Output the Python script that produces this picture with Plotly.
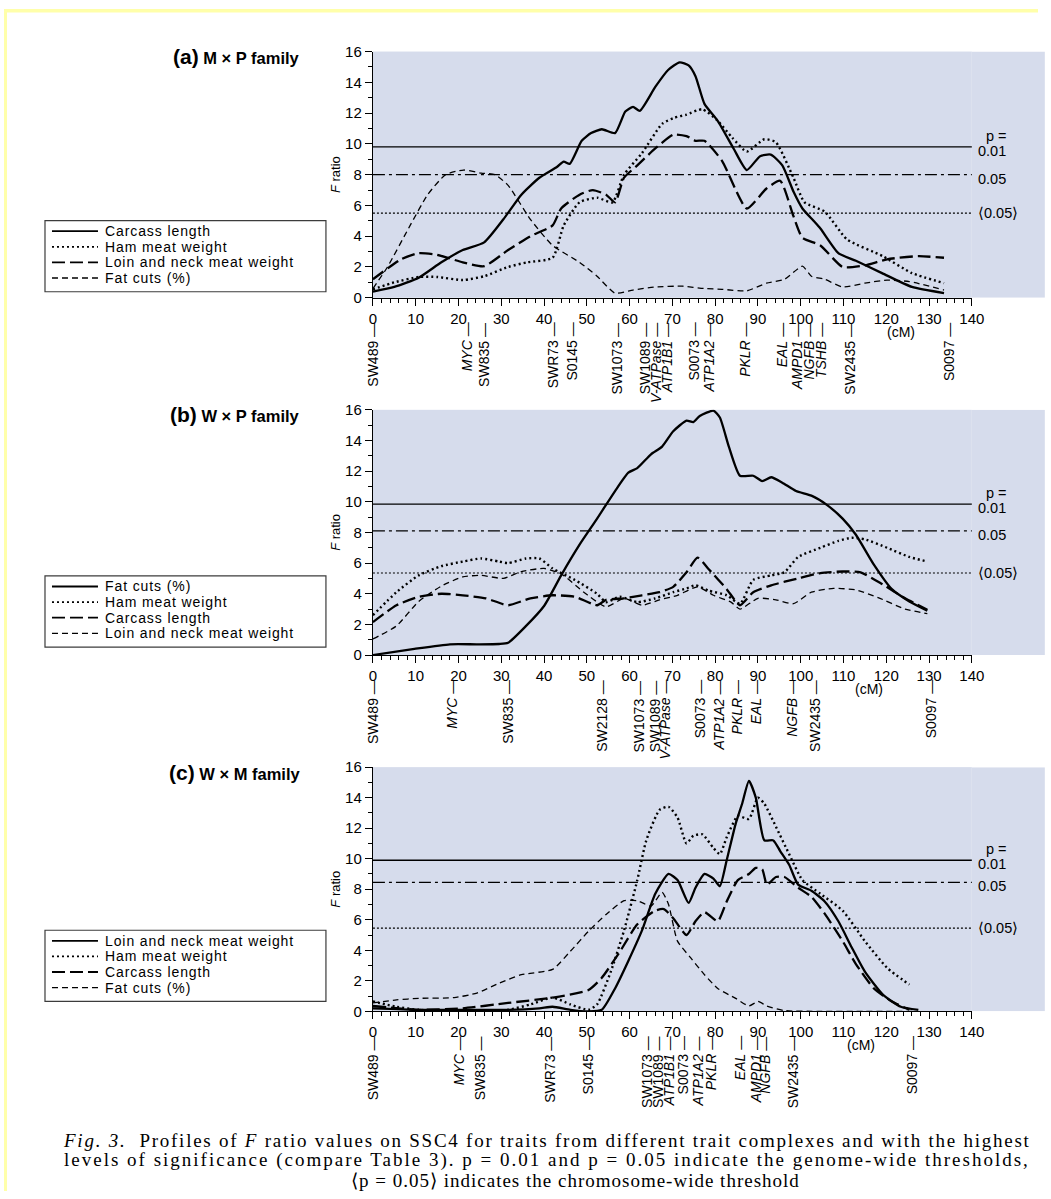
import plotly.graph_objects as go

# The photographed page shows the figure slightly scaled/offset; map reference pixels to figure pixels.
W, H = 1051, 1199
AX, SX = 4.0, 0.984
AY, SY = 9.5, 0.985


def px(sx):
    return ((sx - AX) / SX) / W


def py(sy):
    return 1 - ((sy - AY) / SY) / H


# ---------------- data (cM positions and F ratios) ----------------
# Panel (a) M x P family
carcass_a_cM = [0, 5, 10.7, 16, 21, 26, 30.5, 34.7, 38.9, 43, 44.6, 46, 48.8, 51, 53.5, 56.6, 59, 60.8, 62.4, 66, 69,
                71.7, 73.8, 75.4, 77.5, 80.6, 84.3, 87.4, 90.5, 93, 95.7, 98.3, 100.4, 103, 104.6, 108.8, 112.9, 119,
                126, 133.5]
carcass_a_F = [0.4, 0.7, 1.3, 2.3, 3.1, 3.6, 5.1, 6.7, 7.8, 8.5, 8.85, 8.7, 10.2, 10.7, 10.95, 10.7, 12.1, 12.4, 12.15,
               13.7, 14.8, 15.3, 15.1, 14.4, 12.6, 11.5, 9.7, 8.3, 9.2, 9.3, 8.6, 6.9, 5.8, 5.0, 4.5, 2.9, 2.4, 1.6,
               0.7, 0.3]
ham_a_cM = [0, 5, 10.7, 15, 21, 26, 31.6, 36, 42, 44.6, 48.3, 52.4, 56, 58.7, 62.9, 67.6, 70.5, 73.3, 77, 80.6, 84,
            87.4, 91.5, 94.2, 98.3, 100.9, 105.6, 110.8, 119.2, 126, 133.5]
ham_a_F = [0.55, 1.0, 1.35, 1.35, 1.15, 1.4, 2.0, 2.3, 2.6, 4.7, 6.2, 6.5, 6.2, 8.0, 9.4, 11.3, 11.7, 11.9, 12.25, 11.5,
           10.4, 9.5, 10.3, 10.1, 7.8, 6.2, 5.6, 3.8, 2.7, 1.6, 0.95]
loin_a_cM = [0, 6.6, 10.7, 14.9, 21, 26, 31.6, 36.8, 42, 44, 48.3, 51.4, 54.5, 56.6, 58.7, 61.8, 66, 70.2, 73.3, 75.4,
             77.5, 81.6, 87.4, 92, 95.2, 98.3, 100.4, 104.6, 109.8, 115, 120.2, 127.5, 133.5]
loin_a_F = [1.2, 2.5, 2.9, 2.8, 2.3, 2.05, 3.1, 4.0, 4.7, 5.8, 6.7, 7.0, 6.7, 6.2, 7.8, 8.6, 9.7, 10.6, 10.5, 10.2,
            10.2, 8.9, 5.8, 7.1, 7.6, 5.3, 3.9, 3.4, 2.0, 2.1, 2.5, 2.7, 2.6]
fat_a_cM = [0, 3.4, 8.7, 12.8, 17, 21.2, 25.3, 28.5, 31.6, 36.8, 42, 48.3, 52.4, 56.6, 60.8, 66, 72.3, 77.5, 81.6,
            87.4, 92, 96.2, 100.4, 102.5, 105.6, 109.8, 115, 120.2, 125.4, 133.5]
fat_a_F = [0.6, 2.0, 4.7, 6.7, 8.0, 8.3, 8.1, 8.0, 7.3, 5.1, 3.4, 2.3, 1.4, 0.3, 0.5, 0.7, 0.75, 0.6, 0.55, 0.45,
           0.95, 1.2, 2.05, 1.4, 1.2, 0.7, 0.95, 1.15, 1.05, 0.5]

# Panel (b) W x P family
fat_b_cM = [0, 9.7, 18, 24.3, 29.5, 31.6, 35.8, 40, 44, 48.3, 52.4, 56.6, 59.7, 61.8, 65, 67.6, 70.2, 73.3, 74.9,
            76.4, 79.6, 81.1, 83.2, 85.8, 88.9, 91, 93.1, 95.7, 98.9, 102.5, 106.1, 109.8, 112.9, 117.1, 121.3,
            125.4, 129.6]
fat_b_F = [0, 0.4, 0.7, 0.7, 0.72, 0.8, 1.9, 3.2, 5.2, 7.2, 8.9, 10.7, 11.9, 12.2, 13.1, 13.6, 14.6, 15.3, 15.2,
           15.6, 15.95, 15.5, 13.6, 11.7, 11.7, 11.35, 11.6, 11.25, 10.7, 10.4, 9.8, 8.9, 7.85, 5.9, 4.3, 3.5, 2.9]
ham_b_cM = [0, 5.5, 10.7, 16, 21, 25.3, 29.5, 31.6, 35.8, 38.9, 42, 47.2, 52.4, 54.5, 57.7, 61.8, 66, 70.2, 73.3,
            75.4, 78.5, 82.7, 85.8, 88.9, 93.1, 96.2, 99.4, 104.6, 108.8, 111.9, 115, 120.2, 125.4, 129.6]
ham_b_F = [2.6, 4.1, 5.2, 5.8, 6.1, 6.3, 6.1, 6.0, 6.3, 6.3, 5.65, 4.9, 4.0, 3.45, 3.8, 3.45, 3.7, 4.1, 4.35, 4.55,
           4.2, 3.9, 3.35, 4.9, 5.2, 5.4, 6.4, 7.0, 7.45, 7.65, 7.55, 7.0, 6.4, 6.1]
carcass_b_cM = [0, 5.5, 10.7, 16, 21, 26.4, 31.6, 36.8, 42, 47.2, 52.4, 54.5, 58.7, 62.9, 67, 70.2, 73.3, 75.9, 78.5,
                82.7, 85.8, 88.9, 93.1, 99.4, 104.6, 109.8, 114, 119.2, 124.4, 129.6]
carcass_b_F = [2.15, 3.25, 3.8, 4.0, 3.9, 3.7, 3.25, 3.7, 3.9, 3.8, 3.25, 3.6, 3.7, 3.9, 4.1, 4.45, 5.4, 6.35, 5.6,
               4.3, 3.25, 4.1, 4.55, 5.0, 5.35, 5.45, 5.4, 4.6, 3.7, 2.95]
loin_b_cM = [0, 5.5, 10.7, 16, 21, 25.3, 30.5, 34.7, 40, 44, 49.3, 54.5, 58.7, 62.9, 67, 71.2, 75.9, 79.6, 83.7, 85.8,
             90, 94.2, 98.3, 102.5, 107.7, 112.9, 118.1, 124.4, 129.6]
loin_b_F = [1.05, 1.9, 3.5, 4.5, 5.1, 5.2, 5.0, 5.45, 5.65, 5.3, 4.1, 3.15, 3.7, 3.25, 3.6, 3.9, 4.45, 3.9, 3.45, 3.0,
            3.7, 3.6, 3.35, 4.1, 4.35, 4.25, 3.75, 3.0, 2.7]

# Panel (c) W x M family
loin_c_cM = [0, 10.7, 21, 31.6, 38.9, 42, 46.2, 50.4, 53.5, 56.6, 59.7, 62.9, 66, 69.1, 71.2, 73.8, 75.4, 77.5, 79.6,
             81.1, 82.7, 84.8, 86.3, 87.9, 89.5, 91.5, 93.6, 95.2, 97.3, 99.4, 102.5, 105.6, 108.8, 111.9, 115, 119.2,
             123.4, 127.5]
loin_c_F = [0.2, 0.1, 0.1, 0.1, 0.2, 0.3, 0.1, 0, 0.1, 1.5, 3.3, 5.3, 7.7, 9.0, 8.6, 7.1, 8.1, 9.0, 8.7, 8.2, 9.9,
            12.3, 13.6, 15.1, 14.0, 11.2, 11.2, 10.5, 9.6, 8.3, 7.9, 7.2, 5.9, 4.2, 2.6, 1.1, 0.3, 0.1]
ham_c_cM = [0, 5.5, 10.7, 21, 31.6, 36.8, 42, 46.2, 50.4, 52.4, 55.6, 58.7, 61.8, 63.9, 67, 69.1, 71.2, 73.3, 74.9,
            77, 79.6, 81.1, 82.7, 85.3, 87.9, 90, 91.5, 94.2, 97.3, 100.4, 104.6, 109.8, 115, 120.2, 125.4]
ham_c_F = [0.65, 0.3, 0.1, 0, 0.1, 0.45, 0.9, 0.45, 0.1, 0.45, 2.6, 5.3, 8.6, 11.2, 13.2, 13.4, 12.7, 11.0, 11.5,
           11.6, 10.7, 10.3, 11.4, 12.8, 12.6, 14.0, 13.6, 12.1, 10.3, 8.6, 7.7, 6.6, 4.6, 2.85, 1.75]
carcass_c_cM = [0, 10.7, 21, 31.6, 42, 50.4, 53.5, 57.7, 61.8, 66, 68, 70.2, 73.3, 75.4, 77.5, 80.6, 82.7, 85.3, 87.9,
                89.5, 91, 92.1, 94.2, 96.2, 99.4, 102.5, 105.6, 109.8, 112.9, 117.1, 121.3, 125.4]
carcass_c_F = [0.35, 0.1, 0.2, 0.55, 0.9, 1.4, 2.2, 3.9, 5.7, 6.6, 6.7, 6.1, 5.0, 5.9, 6.5, 5.9, 7.2, 8.6, 9.0, 9.4,
               9.3, 8.3, 8.8, 8.8, 8.1, 7.5, 6.4, 4.6, 3.1, 1.5, 0.65, 0.1]
fat_c_cM = [0, 5.5, 10.7, 19, 24.3, 29.5, 34.7, 42, 46.2, 50.4, 54.5, 58.7, 61.8, 65, 67.6, 69.1, 71.2, 74.3, 77.5,
            80.6, 84.8, 87.9, 90, 92.1, 96.2, 104.6, 115, 127]
fat_c_F = [0.55, 0.75, 0.85, 0.9, 1.2, 1.85, 2.4, 2.75, 3.95, 5.25, 6.35, 7.25, 7.25, 6.9, 7.8, 7.0, 4.6, 3.5, 2.4,
           1.5, 0.85, 0.35, 0.65, 0.35, 0.05, 0, 0, 0]

# significance thresholds [p=0.01, p=0.05, <p=0.05>]
thr_a = [9.8, 8.0, 5.5]
thr_b = [9.85, 8.1, 5.35]
thr_c = [9.9, 8.45, 5.45]
thr_labels = ["0.01", "0.05", "⟨0.05⟩"]

# marker maps
markers_a_names = ["SW489", "MYC", "SW835", "SWR73", "S0145", "SW1073", "SW1089", "V-ATPase", "ATP1B1", "S0073",
                   "ATP1A2", "PKLR", "EAL", "AMPD1", "NGFB", "TSHB", "SW2435", "S0097"]
markers_a_cM = [0, 22, 26, 42, 46.5, 57, 63.5, 66.2, 68.8, 75, 78.5, 87, 95.5, 99.3, 102, 104.7, 111.5, 134.5]
markers_b_names = ["SW489", "MYC", "SW835", "SW2128", "SW1073", "SW1089", "V-ATPase", "S0073", "ATP1A2", "PKLR",
                   "EAL", "NGFB", "SW2435", "S0097"]
markers_b_cM = [0, 18.3, 31.5, 53.5, 62.3, 66, 68.4, 76.5, 81, 85.2, 89.6, 97.8, 103.3, 130.5]
markers_c_names = ["SW489", "MYC", "SW835", "SWR73", "S0145", "SW1073", "SW1089", "ATP1B1", "S0073", "ATP1A2",
                   "PKLR", "EAL", "AMPD1", "NGFB", "SW2435", "S0097"]
markers_c_cM = [0, 20, 25, 41.5, 50.3, 64.2, 66.8, 69.4, 72.5, 76, 79, 86, 89.4, 91.6, 98.2, 126]
gene_names = {"MYC", "V-ATPase", "ATP1B1", "ATP1A2", "PKLR", "EAL", "AMPD1", "NGFB", "TSHB"}

x_ticks = list(range(0, 141, 10))
y_ticks = list(range(0, 17, 2))

# ---------------- styles ----------------
BLUE = "rgb(214,220,236)"
FONT = "Liberation Sans"
SOLID = dict(color="black", width=2.3, dash="solid")
DOT = dict(color="black", width=2.4, dash="2px,3px")
LDASH = dict(color="black", width=2.3, dash="13px,5px")
SDASH = dict(color="black", width=1.3, dash="6px,4px")
THR_STYLES = [dict(color="black", width=1.3, dash="solid"),
              dict(color="black", width=1.3, dash="12px,4px,3px,4px"),
              dict(color="black", width=1.1, dash="2px,2px")]

panels = [
    dict(tag="a", fam="M × P family", top=52, bot=298, thr=thr_a, legtop=221, cm=123.5,
         markers=(markers_a_names, markers_a_cM),
         series=[("Carcass length", carcass_a_cM, carcass_a_F, SOLID),
                 ("Ham meat weight", ham_a_cM, ham_a_F, DOT),
                 ("Loin and neck meat weight", loin_a_cM, loin_a_F, LDASH),
                 ("Fat cuts (%)", fat_a_cM, fat_a_F, SDASH)]),
    dict(tag="b", fam="W × P family", top=410, bot=655, thr=thr_b, legtop=576, cm=116,
         markers=(markers_b_names, markers_b_cM),
         series=[("Fat cuts (%)", fat_b_cM, fat_b_F, SOLID),
                 ("Ham meat weight", ham_b_cM, ham_b_F, DOT),
                 ("Carcass length", carcass_b_cM, carcass_b_F, LDASH),
                 ("Loin and neck meat weight", loin_b_cM, loin_b_F, SDASH)]),
    dict(tag="c", fam="W × M family", top=767, bot=1011, thr=thr_c, legtop=930, cm=114,
         markers=(markers_c_names, markers_c_cM),
         series=[("Loin and neck meat weight", loin_c_cM, loin_c_F, SOLID),
                 ("Ham meat weight", ham_c_cM, ham_c_F, DOT),
                 ("Carcass length", carcass_c_cM, carcass_c_F, LDASH),
                 ("Fat cuts (%)", fat_c_cM, fat_c_F, SDASH)]),
]

X0, X1 = 373, 972  # reference pixel positions of 0 and 140 cM

fig = go.Figure()
shapes = []
annotations = []

# yellow page frame (left and top strips)
shapes.append(dict(type="rect", xref="paper", yref="paper", x0=0, x1=px(7), y0=0, y1=1,
                   fillcolor="rgb(255,255,170)", line=dict(width=0), layer="below"))
shapes.append(dict(type="rect", xref="paper", yref="paper", x0=0, x1=1, y0=py(13), y1=1,
                   fillcolor="rgb(255,255,170)", line=dict(width=0), layer="below"))

for i, p in enumerate(panels):
    n = "" if i == 0 else str(i + 1)
    xa, ya = "x" + n, "y" + n
    for name, xs, ys, st in p["series"]:
        fig.add_trace(go.Scatter(x=xs, y=ys, name=name, mode="lines", xaxis=xa, yaxis=ya,
                                 line=dict(color=st["color"], width=st["width"], dash=st["dash"],
                                           shape="spline", smoothing=0.55),
                                 showlegend=False, hoverinfo="x+y+name"))
    axis_common = dict(showgrid=False, zeroline=False, showline=True, linecolor="black", linewidth=1.3,
                       ticks="outside", ticklen=7, tickwidth=1.3, tickcolor="black",
                       tickfont=dict(family=FONT, size=15, color="black"))
    fig.layout["xaxis" + n] = dict(domain=[px(X0), px(X1)], range=[0, 140], anchor=ya,
                                   tickvals=x_ticks, fixedrange=True,
                                   minor=dict(dtick=2, ticklen=4, tickwidth=1, tickcolor="black", ticks="outside"),
                                   **axis_common)
    fig.layout["yaxis" + n] = dict(domain=[py(p["bot"]), py(p["top"])], range=[0, 16], anchor=xa,
                                   tickvals=y_ticks, fixedrange=True,
                                   minor=dict(dtick=1, ticklen=4, tickwidth=1, tickcolor="black", ticks="outside"),
                                   title=dict(text="<i>F</i> ratio", standoff=1,
                                              font=dict(family=FONT, size=13, color="black")),
                                   **axis_common)
    # tinted background extension to the right of the plot area
    shapes.append(dict(type="rect", xref="paper", yref=ya, x0=px(X1), x1=px(1045), y0=0, y1=16,
                       fillcolor=BLUE, line=dict(width=0), layer="below"))
    # thresholds
    for v, st, lab in zip(p["thr"], THR_STYLES, thr_labels):
        shapes.append(dict(type="line", xref=xa, yref=ya, x0=0, x1=140.6, y0=v, y1=v, line=st))
        annotations.append(dict(xref="paper", yref=ya, x=px(976), y=v, text=lab, showarrow=False, xanchor="left",
                                yanchor="middle", yshift=-4 if lab != "⟨0.05⟩" else 0,
                                font=dict(family=FONT, size=14.5, color="black")))
    annotations.append(dict(xref="paper", yref=ya, x=px(984), y=p["thr"][0], text="p =", showarrow=False,
                            xanchor="left", yanchor="middle", yshift=11,
                            font=dict(family=FONT, size=14.5, color="black")))
    # marker names below the axis
    names, cms = p["markers"]
    for nm, c in zip(names, cms):
        t = f"<i>{nm}</i>" if nm in gene_names else nm
        annotations.append(dict(xref=xa, yref="paper", x=c, y=py(p["bot"] + 23), text=t + " —", textangle=-90,
                                showarrow=False, xanchor="center", yanchor="top",
                                font=dict(family=FONT, size=14, color="black")))
    annotations.append(dict(xref=xa, yref="paper", x=p["cm"], y=py(p["bot"] + 34), text="(cM)", showarrow=False,
                            xanchor="center", yanchor="middle", font=dict(family=FONT, size=14, color="black")))
    # panel title
    annotations.append(dict(xref="paper", yref="paper", x=px(302), y=py(p["top"] + 5),
                            text=f"<b><span style='font-size:21px'>({p['tag']})</span> {p['fam']}</b>",
                            showarrow=False, xanchor="right", yanchor="middle",
                            font=dict(family=FONT, size=16.5, color="black")))
    # legend box
    lt = p["legtop"]
    shapes.append(dict(type="rect", xref="paper", yref="paper", x0=px(45), x1=px(326), y0=py(lt + 71), y1=py(lt),
                       line=dict(color="rgb(60,60,60)", width=1.2), fillcolor="white"))
    for k, (name, xs, ys, st) in enumerate(p["series"]):
        yy = lt + 10.5 + 15.6 * k
        shapes.append(dict(type="line", xref="paper", yref="paper", x0=px(52), x1=px(98), y0=py(yy), y1=py(yy),
                           line=dict(color="black", width=min(st["width"], 1.8), dash=st["dash"])))
        annotations.append(dict(xref="paper", yref="paper", x=px(103), y=py(yy),
                                text=f"<span style='letter-spacing:0.9px'>{name}</span>", showarrow=False,
                                xanchor="left", yanchor="middle",
                                font=dict(family=FONT, size=14, color="black")))

# caption
cap_font = dict(family="Liberation Serif", size=19, color="black")
caption_lines = [
    "<i>Fig. 3.</i>  Profiles of <i>F</i> ratio values on SSC4 for traits from different trait complexes and with the highest",
    "levels of significance (compare Table 3). p = 0.01 and p = 0.05 indicate the genome-wide thresholds,",
    "⟨p = 0.05⟩ indicates the chromosome-wide threshold",
]
caption_spacing = [1.75, 2.0, 1.0]
caption_centers = [547, 547, 576]
for line, sy, ls, cx in zip(caption_lines, [1140, 1160, 1180], caption_spacing, caption_centers):
    annotations.append(dict(xref="paper", yref="paper", x=px(cx), y=py(sy),
                            text=f"<span style='letter-spacing:{ls}px'>{line}</span>", showarrow=False,
                            xanchor="center", yanchor="middle", font=cap_font))

fig.update_layout(width=W, height=H, margin=dict(l=0, r=0, t=0, b=0, pad=0), autosize=False,
                  paper_bgcolor="white", plot_bgcolor=BLUE, showlegend=False,
                  shapes=shapes, annotations=annotations,
                  font=dict(family=FONT, size=13, color="black"))

fig.write_html("out.html", config={"displayModeBar": False},
               post_script="document.body.style.margin='0';document.body.style.overflow='hidden';"
                           "document.documentElement.style.overflow='hidden';")
